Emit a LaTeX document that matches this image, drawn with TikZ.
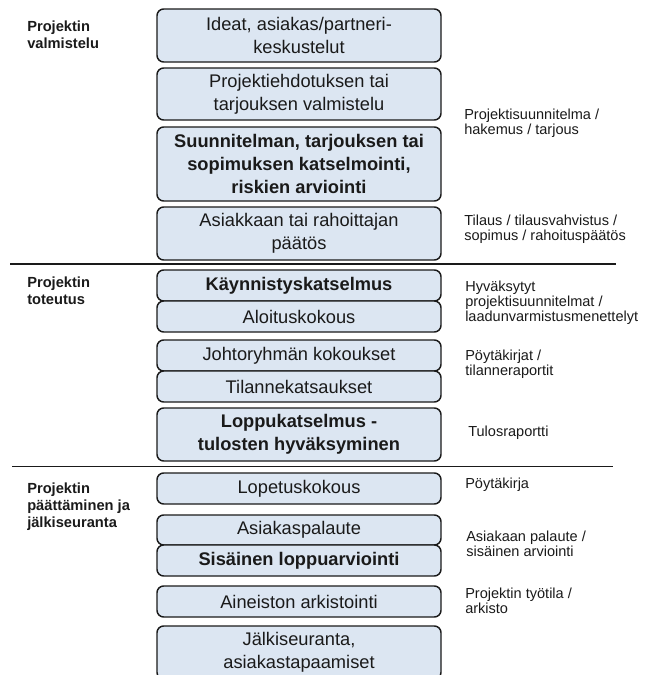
\documentclass[tikz,border=0pt]{standalone}
\usepackage{fontspec}
\setmainfont{Liberation Sans}
\definecolor{boxfill}{HTML}{DCE6F2}
\definecolor{ink}{HTML}{1A1A1A}

\begin{document}
\begin{tikzpicture}[x=0.75pt,y=-0.75pt,
        stage/.style={draw=ink, line width=1.1pt, fill=boxfill, rounded corners=5pt,
            minimum width=213pt, minimum height=#1*0.75pt, inner sep=0pt,
            align=center, text=ink, font=\fontsize{13.7}{17}\selectfont},
        boldstage/.style={stage=#1, font=\fontsize{13.7}{17}\selectfont\bfseries},
        phase/.style={anchor=west, align=left, inner sep=0pt, text=ink,
            font=\fontsize{11}{12.6}\selectfont\bfseries},
        output/.style={anchor=west, align=left, inner sep=0pt, text=ink,
            font=\fontsize{10.9}{11.4}\selectfont}]
        \useasboundingbox (0,0) rectangle (652,675);
        % vaiheet
        \node[phase] (valmistelu) at (27,34.5) {Projektin\\valmistelu};
        \node[phase] (toteutus) at (27,290.5) {Projektin\\toteutus};
        \node[phase] (paattaminen) at (27,506.5) {Projektin\\päättäminen ja\\jälkiseuranta};
        % tehtavat
        \node[stage=53] (ideat) at (299,35.5) {Ideat, asiakas/partneri-\\keskustelut};
        \node[stage=52] (ehdotus) at (299,94) {Projektiehdotuksen tai\\tarjouksen valmistelu};
        \node[boldstage=74] (katselmointi) at (299,164) {Suunnitelman, tarjouksen tai\\sopimuksen katselmointi,\\riskien arviointi};
        \node[stage=53] (paatos) at (299,233.5) {Asiakkaan tai rahoittajan\\päätös};
        \node[boldstage=31] (kaynnistys) at (299,285.5) {Käynnistyskatselmus};
        \node[stage=31] (aloitus) at (299,316.5) {Aloituskokous};
        \node[stage=31] (johtoryhma) at (299,355.5) {Johtoryhmän kokoukset};
        \node[stage=31] (tilanne) at (299,386.5) {Tilannekatsaukset};
        \node[boldstage=53] (loppukats) at (299,434.5) {Loppukatselmus -\\tulosten hyväksyminen};
        \node[stage=31] (lopetus) at (299,488.5) {Lopetuskokous};
        \node[stage=30] (palaute) at (299,530) {Asiakaspalaute};
        \node[boldstage=31] (sisainen) at (299,560.5) {Sisäinen loppuarviointi};
        \node[stage=31] (arkistointi) at (299,601.5) {Aineiston arkistointi};
        \node[stage=53] (jalki) at (299,652.5) {Jälkiseuranta,\\asiakastapaamiset};
        % tuotokset
        \node[output] (suunnitelma) at (464,123.5) {Projektisuunnitelma /\\hakemus / tarjous};
        \node[output] (tilaus) at (464,229) {Tilaus / tilausvahvistus /\\sopimus / rahoituspäätös};
        \node[output] (hyvaksytyt) at (465,303) {Hyväksytyt\\projektisuunnitelmat /\\laadunvarmistusmenettelyt};
        \node[output] (poytakirjat) at (465,364.5) {Pöytäkirjat /\\tilanneraportit};
        \node[output] (tulos) at (468,433) {Tulosraportti};
        \node[output] (poytakirja) at (465,485) {Pöytäkirja};
        \node[output] (asiakaanpalaute) at (466,543.5) {Asiakaan palaute /\\sisäinen arviointi};
        \node[output] (tyotila) at (465,600.5) {Projektin työtila /\\arkisto};
        % erottimet
        \draw[ink, line width=1.3pt] (10,264) -- (616,264);
        \draw[ink, line width=1.3pt] (12,466.5) -- (613,466.5);
    \end{tikzpicture}
\end{document}
